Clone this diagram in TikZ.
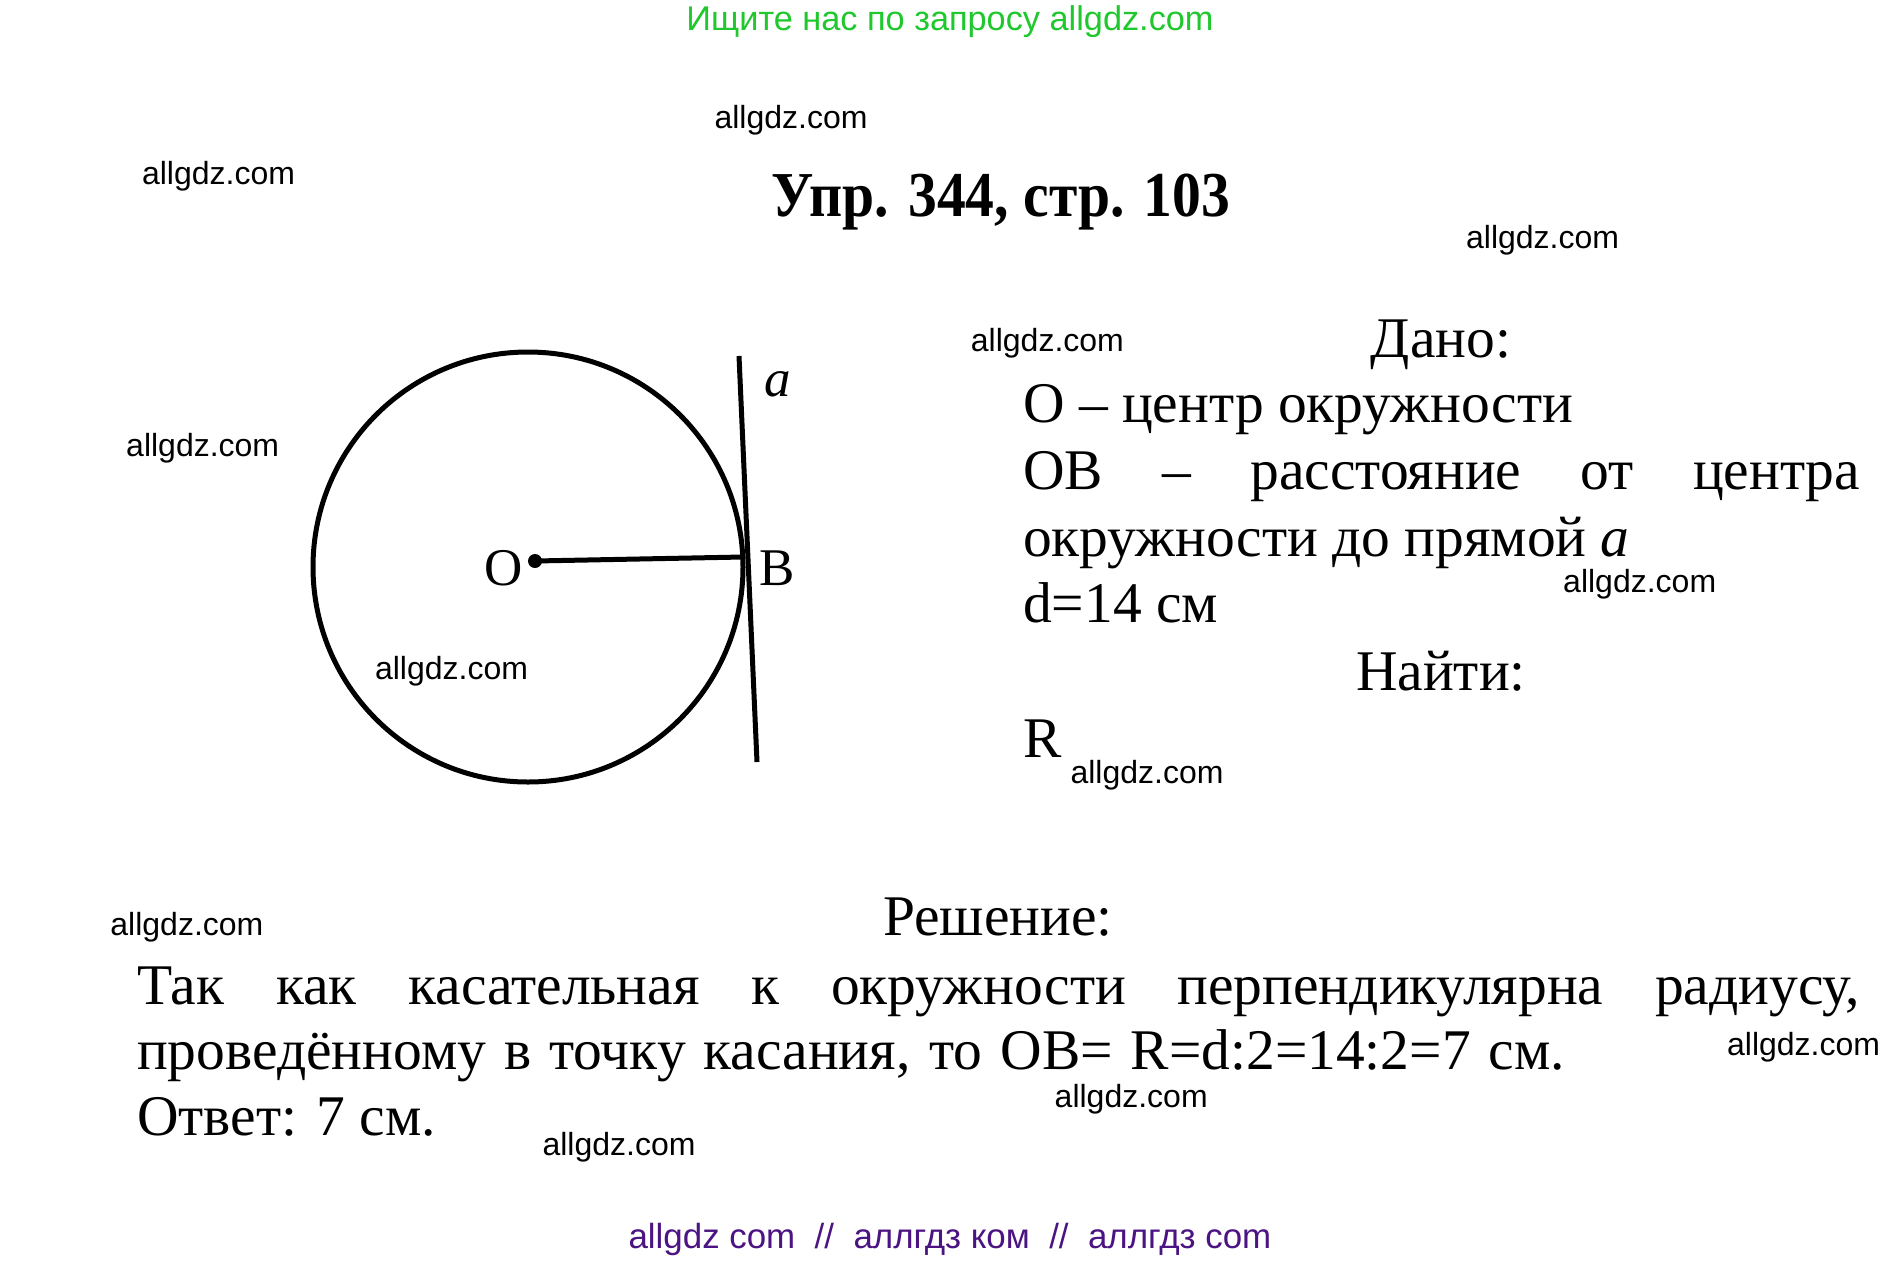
\documentclass[tikz,border=0pt]{standalone}
\usepackage{fontspec}
\setmainfont{Liberation Serif}
\newfontfamily\wmfont{Liberation Sans}
\definecolor{topgreen}{RGB}{30,200,45}
\definecolor{btmpurple}{RGB}{75,20,130}
\tikzset{%
wmark/.style={font=\wmfont\fontsize{32}{38}\selectfont, inner sep=0pt},
given/.style={font=\fontsize{57.5}{66.8}\selectfont, inner sep=0pt, anchor=base west},
heading/.style={font=\fontsize{57.5}{66.8}\selectfont, inner sep=0pt, anchor=base},
figline/.style={line width=5pt},
lbl/.style={font=\fontsize{53}{60}\selectfont, inner sep=0pt}
}

\begin{document}
\begin{tikzpicture}[x=1pt,y=-1pt]
		\useasboundingbox[fill=white] (0,0) rectangle (1903,1262);
		
		\node[wmark, font=\wmfont\fontsize{34.3}{40}\selectfont, text=topgreen] (search) at (950,22) {Ищите нас по запросу allgdz.com};
		\node[font=\bfseries\fontsize{64}{70}\selectfont, inner sep=0pt, anchor=base] (title) at (1001,216) {\scalebox{0.9}[1]{Упр. 344, стр. 103}};
		
		% circle and tangent
		\draw[figline] (528,567) circle [radius=215pt];
		\coordinate (atop) at (739,356);
		\coordinate (abot) at (757,762);
		\coordinate (B) at (743,557);
		\draw[figline] (atop) -- (abot);
		\node[circle, fill, inner sep=0pt, minimum size=14pt] (O) at (535,561) {};
		\draw[figline] (O.center) -- (B);
		\node[lbl] (labO) at (504,568) {O};
		\node[lbl] (labB) at (777,568) {B};
		\node[lbl, font=\itshape\fontsize{53}{60}\selectfont] (laba) at (778,384) {a};
		
		% given
		\node[heading] (dano) at (1441,357) {Дано:};
		\node[given] (g1) at (1023,422.5) {О – центр окружности};
		\node[given] (g2) at (1023,489.3) {\makebox[837pt][s]{ОВ – расстояние от центра}};
		\node[given] (g3) at (1023,556) {окружности до прямой \textit{a}};
		\node[given] (g4) at (1023,622.5) {d=14 см};
		\node[heading] (najti) at (1441,690.5) {Найти:};
		\node[given] (g5) at (1023,757.5) {R};
		
		% solution
		\node[heading] (resh) at (998,935) {Решение:};
		\node[given] (s1) at (137,1004) {\makebox[1723pt][s]{Так как касательная к окружности перпендикулярна радиусу,}};
		\node[given] (s2) at (137,1069.5) {\makebox[1428pt][s]{проведённому в точку касания, то ОВ= R=d:2=14:2=7 см.}};
		\node[given] (s3) at (137,1135) {Ответ: 7 см.};
		
		% watermarks
		\foreach \x/\y [count=\i] in {791/120.5, 218.5/176.5, 1542.6/240.5, 1047.4/343.5, 202.7/448, 451.5/671.5, 1639.7/584, 1147/775.5, 186.9/927.5, 1803.6/1047.5, 1131.2/1099.7, 619/1147}
			\node[wmark] (wm\i) at (\x,\y) {allgdz.com};
		\node[wmark, font=\wmfont\fontsize{34.9}{40}\selectfont, text=btmpurple] (links) at (950,1239.5) {allgdz com \ // \ аллгдз ком \ // \ аллгдз com};
	\end{tikzpicture}
\end{document}
